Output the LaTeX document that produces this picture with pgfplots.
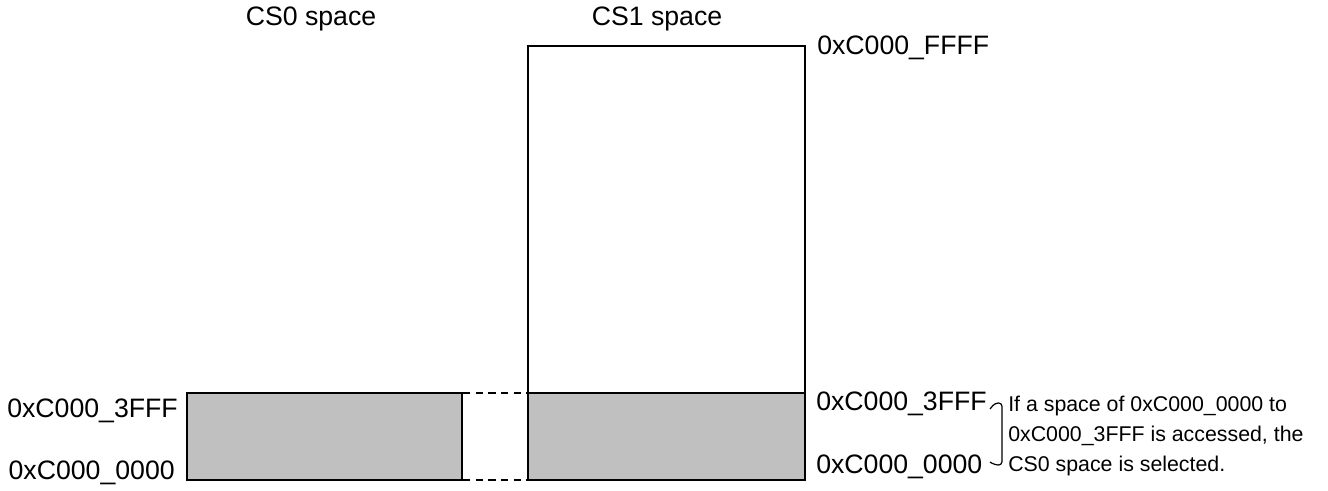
\documentclass[border=0pt]{standalone}
\usepackage{pgfplots}
\pgfplotsset{compat=1.18}
\usepackage{fontspec}
\setmainfont{Liberation Sans}
\definecolor{memgray}{HTML}{C0C0C0}
\begin{document}
\begin{tikzpicture}
\begin{axis}[
  scale only axis, width=996pt, height=367.5pt,
  xmin=0, xmax=1328, ymin=0, ymax=490, y dir=reverse,
  hide axis, clip=false,
]
\addplot[draw=none] coordinates {(0,0) (1328,490)};
% CS0 block
\addplot[fill=memgray, draw=black, line width=1.5pt] coordinates {(187,393) (462,393) (462,480) (187,480)} -- cycle;
% CS1 block
\addplot[fill=white, draw=black, line width=1.5pt] coordinates {(528,46) (805,46) (805,480) (528,480)} -- cycle;
\addplot[fill=memgray, draw=black, line width=1.5pt] coordinates {(528,393) (805,393) (805,480) (528,480)} -- cycle;
% dashed connectors
\addplot[black, line width=0.9pt, dash pattern=on 5.5pt off 4pt] coordinates {(463,393) (527,393)};
\addplot[black, line width=0.9pt, dash pattern=on 5.5pt off 4pt] coordinates {(463,480) (527,480)};
% brace
\draw[line width=0.9pt, rounded corners=2.5pt] (axis cs:990,409) -- (axis cs:995,403) -- (axis cs:1002,403) -- (axis cs:1002,465) -- (axis cs:995,465) -- (axis cs:990,462);
% labels
\node[font=\fontsize{20}{24}\selectfont] at (axis cs:311,19) {CS0 space};
\node[font=\fontsize{20}{24}\selectfont] at (axis cs:657,19) {CS1 space};
\node[font=\fontsize{20}{24}\selectfont, anchor=west, inner sep=0pt] at (axis cs:817,48) {0xC000\_FFFF};
\node[font=\fontsize{20}{24}\selectfont, anchor=east, inner sep=0pt] at (axis cs:178,411) {0xC000\_3FFF};
\node[font=\fontsize{20}{24}\selectfont, anchor=east, inner sep=0pt] at (axis cs:175,473) {0xC000\_0000};
\node[font=\fontsize{20}{24}\selectfont, anchor=west, inner sep=0pt] at (axis cs:816,404) {0xC000\_3FFF};
\node[font=\fontsize{20}{24}\selectfont, anchor=west, inner sep=0pt] at (axis cs:816,467) {0xC000\_0000};
\node[font=\fontsize{16}{20}\selectfont, anchor=west, inner sep=0pt] at (axis cs:1008,406) {If a space of 0xC000\_0000 to};
\node[font=\fontsize{16}{20}\selectfont, anchor=west, inner sep=0pt] at (axis cs:1008,436) {0xC000\_3FFF is accessed, the};
\node[font=\fontsize{16}{20}\selectfont, anchor=west, inner sep=0pt] at (axis cs:1008,466) {CS0 space is selected.};
\end{axis}
\end{tikzpicture}
\end{document}
